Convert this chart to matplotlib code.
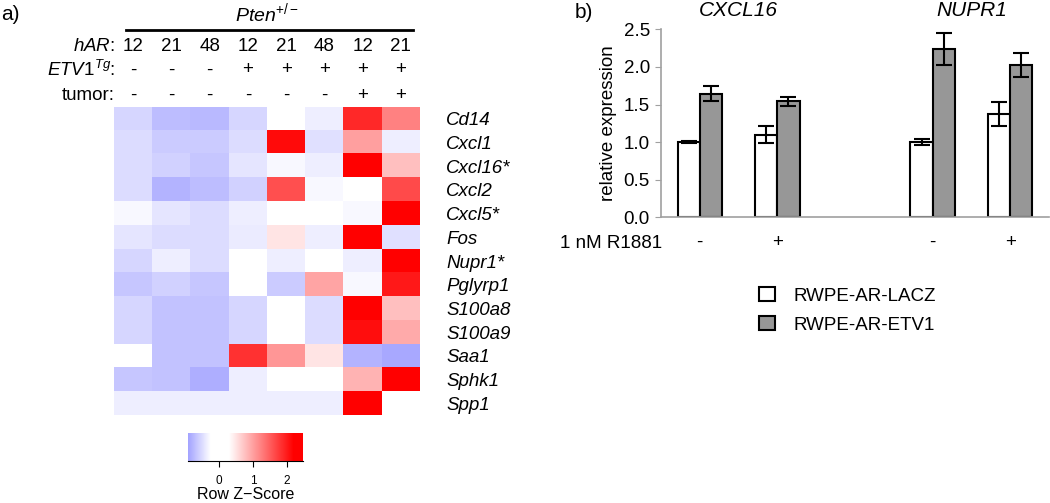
import numpy as np
import matplotlib.pyplot as plt
import matplotlib.transforms as mtransforms
from matplotlib.colors import LinearSegmentedColormap, Normalize
from matplotlib.lines import Line2D

plt.rcParams['font.family'] = 'Liberation Sans'
plt.rcParams['mathtext.fontset'] = 'custom'
plt.rcParams['mathtext.rm'] = 'Liberation Sans'
plt.rcParams['mathtext.it'] = 'Liberation Sans:italic'
plt.rcParams['font.size'] = 13.5

# ---- panel a: heatmap data (row z-scores) ----
genes = ['Cd14', 'Cxcl1', 'Cxcl16*', 'Cxcl2', 'Cxcl5*', 'Fos', 'Nupr1*',
         'Pglyrp1', 'S100a8', 'S100a9', 'Saa1', 'Sphk1', 'Spp1']
har = ['12', '21', '48', '12', '21', '48', '12', '21']
etv1 = ['-', '-', '-', '+', '+', '+', '+', '+']
tumor = ['-', '-', '-', '-', '-', '-', '+', '+']
zscore = np.array([
    [-0.54, -0.72, -0.75, -0.54, 0.00, -0.36, 1.90, 1.23],
    [-0.50, -0.61, -0.61, -0.50, 2.12, -0.47, 1.01, -0.36],
    [-0.50, -0.57, -0.65, -0.43, -0.30, -0.36, 2.30, 0.78],
    [-0.50, -0.79, -0.72, -0.57, 1.60, -0.30, 0.00, 1.64],
    [-0.29, -0.43, -0.50, -0.36, 0.00, 0.00, -0.30, 2.30],
    [-0.43, -0.50, -0.50, -0.39, 0.49, -0.36, 2.30, -0.47],
    [-0.54, -0.36, -0.50, 0.00, -0.36, 0.00, -0.36, 2.30],
    [-0.65, -0.57, -0.65, 0.00, -0.61, 0.97, -0.30, 2.01],
    [-0.54, -0.68, -0.68, -0.54, 0.00, -0.50, 2.30, 0.78],
    [-0.54, -0.68, -0.68, -0.54, 0.00, -0.50, 2.09, 0.93],
    [0.00, -0.68, -0.68, 1.83, 1.08, 0.49, -0.79, -0.86],
    [-0.65, -0.68, -0.83, -0.36, 0.00, 0.00, 0.86, 2.30],
    [-0.36, -0.36, -0.36, -0.36, -0.36, -0.36, 2.30, 0.00],
])

# ---- panel b: qPCR bars ----
conditions = ['-', '+', '-', '+']
genes_b = ['CXCL16', 'NUPR1']
lacz = [1.00, 1.10, 1.00, 1.37]
lacz_err = [0.01, 0.11, 0.035, 0.16]
etv1_b = [1.64, 1.54, 2.24, 2.03]
etv1_err = [0.10, 0.065, 0.21, 0.16]
xpos = [0, 1, 3, 4]

W, H = 1050, 503
fig = plt.figure(figsize=(10.5, 5.03), dpi=100)


def box(l, t, r, b):
    return [l / W, 1 - b / H, (r - l) / W, (b - t) / H]


vmin, vmax = -0.91, 2.47


def cpos(z):
    return (z - vmin) / (vmax - vmin)


cmap = LinearSegmentedColormap.from_list('rowz', [
    (0.0, (0.64, 0.64, 1.0)), (cpos(-0.25), (1, 1, 1)), (cpos(0.3), (1, 1, 1)),
    (cpos(2.2), (1, 0, 0)), (1.0, (1, 0, 0))])
norm = Normalize(vmin=vmin, vmax=vmax)

ax = fig.add_axes(box(114, 107, 420, 415))
ax.imshow(zscore, cmap=cmap, norm=norm, aspect='auto', interpolation='nearest')
ax.set_xticks([])
ax.yaxis.tick_right()
ax.set_yticks(range(len(genes)))
ax.set_yticklabels(genes, style='italic')
ax.tick_params(axis='y', length=0, pad=19)
for s in ax.spines.values():
    s.set_visible(False)

trans = mtransforms.blended_transform_factory(ax.transData, fig.transFigure)
rows = [(r'$hAR$:', har, 46), (r'$\mathit{ETV1}^{\mathit{Tg}}$:', etv1, 70), ('tumor:', tumor, 95)]
for lab, vals, yp in rows:
    ax.text(-0.47, 1 - yp / H, lab, transform=trans, ha='right', va='center')
    for i, v in enumerate(vals):
        ax.text(i, 1 - yp / H, v, transform=trans, ha='center', va='center')
ax.text(3.5, 1 - 13 / H, r'$\mathit{Pten}^{+/-}$', transform=trans, ha='center',
        va='center', fontsize=14)
fig.add_artist(Line2D([126 / W, 413 / W], [1 - 30 / H] * 2, color='black', lw=2))
fig.text(1 / W, 1 - 15 / H, 'a)', fontsize=15, va='center')

# colour key
cax = fig.add_axes(box(188, 433, 303, 461))
grad = np.linspace(vmin, vmax, 256)[None, :]
cax.imshow(grad, cmap=cmap, norm=norm, aspect='auto', extent=[vmin, vmax, 0, 1])
cax.set_yticks([])
cax.set_xticks([0, 1, 2])
cax.tick_params(axis='x', length=4, pad=6, labelsize=8.5)
for s in ['top', 'left', 'right']:
    cax.spines[s].set_visible(False)
cax.set_xlabel('Row Z\u2212Score', fontsize=11.5, labelpad=0)

# ---- panel b ----
bax = fig.add_axes(box(661, 29.3, 1049, 217.3))
w = 0.285
xp = np.array(xpos)
ekw = dict(elinewidth=1.5, capthick=1.5, ecolor='black')
b1 = bax.bar(xp - w / 2, lacz, w, yerr=lacz_err, color='white', edgecolor='black',
             lw=1.5, capsize=6, error_kw=ekw, label='RWPE-AR-LACZ')
b2 = bax.bar(xp + w / 2, etv1_b, w, yerr=etv1_err, color='#979797', edgecolor='black',
             lw=1.5, capsize=6, error_kw=ekw, label='RWPE-AR-ETV1')
bax.set_xlim(-0.5, 4.5)
bax.set_ylim(0, 2.5)
bax.set_yticks(np.arange(0, 2.51, 0.5))
bax.set_yticklabels(['%.1f' % v for v in np.arange(0, 2.51, 0.5)])
bax.set_xticks(xpos)
bax.set_xticklabels(conditions)
bax.tick_params(axis='x', length=0, pad=12)
bax.tick_params(axis='y', length=4, color='#a0a0a0', pad=4)
for s in ['top', 'right']:
    bax.spines[s].set_visible(False)
for s in ['left', 'bottom']:
    bax.spines[s].set_color('#a0a0a0')
    bax.spines[s].set_linewidth(1.2)
bax.set_ylabel('relative expression', labelpad=5)

btrans = mtransforms.blended_transform_factory(bax.transData, fig.transFigure)
for g, xc in zip(genes_b, [0.5, 3.5]):
    bax.text(xc, 1 - 11 / H, g, transform=btrans, ha='center', va='center',
             style='italic', fontsize=15)
fig.text(575 / W, 1 - 12 / H, 'b)', fontsize=15, va='center')
fig.text(560 / W, 1 - 243 / H, '1 nM R1881', va='center')

bax.legend(handles=[b1, b2], loc='upper left', bbox_to_anchor=(759 / W, 1 - 287 / H),
           bbox_transform=fig.transFigure, frameon=False, borderpad=0, borderaxespad=0,
           handlelength=0.85, handleheight=0.8, handletextpad=1.0, labelspacing=0.6)

fig.savefig('out.png', dpi=100)
